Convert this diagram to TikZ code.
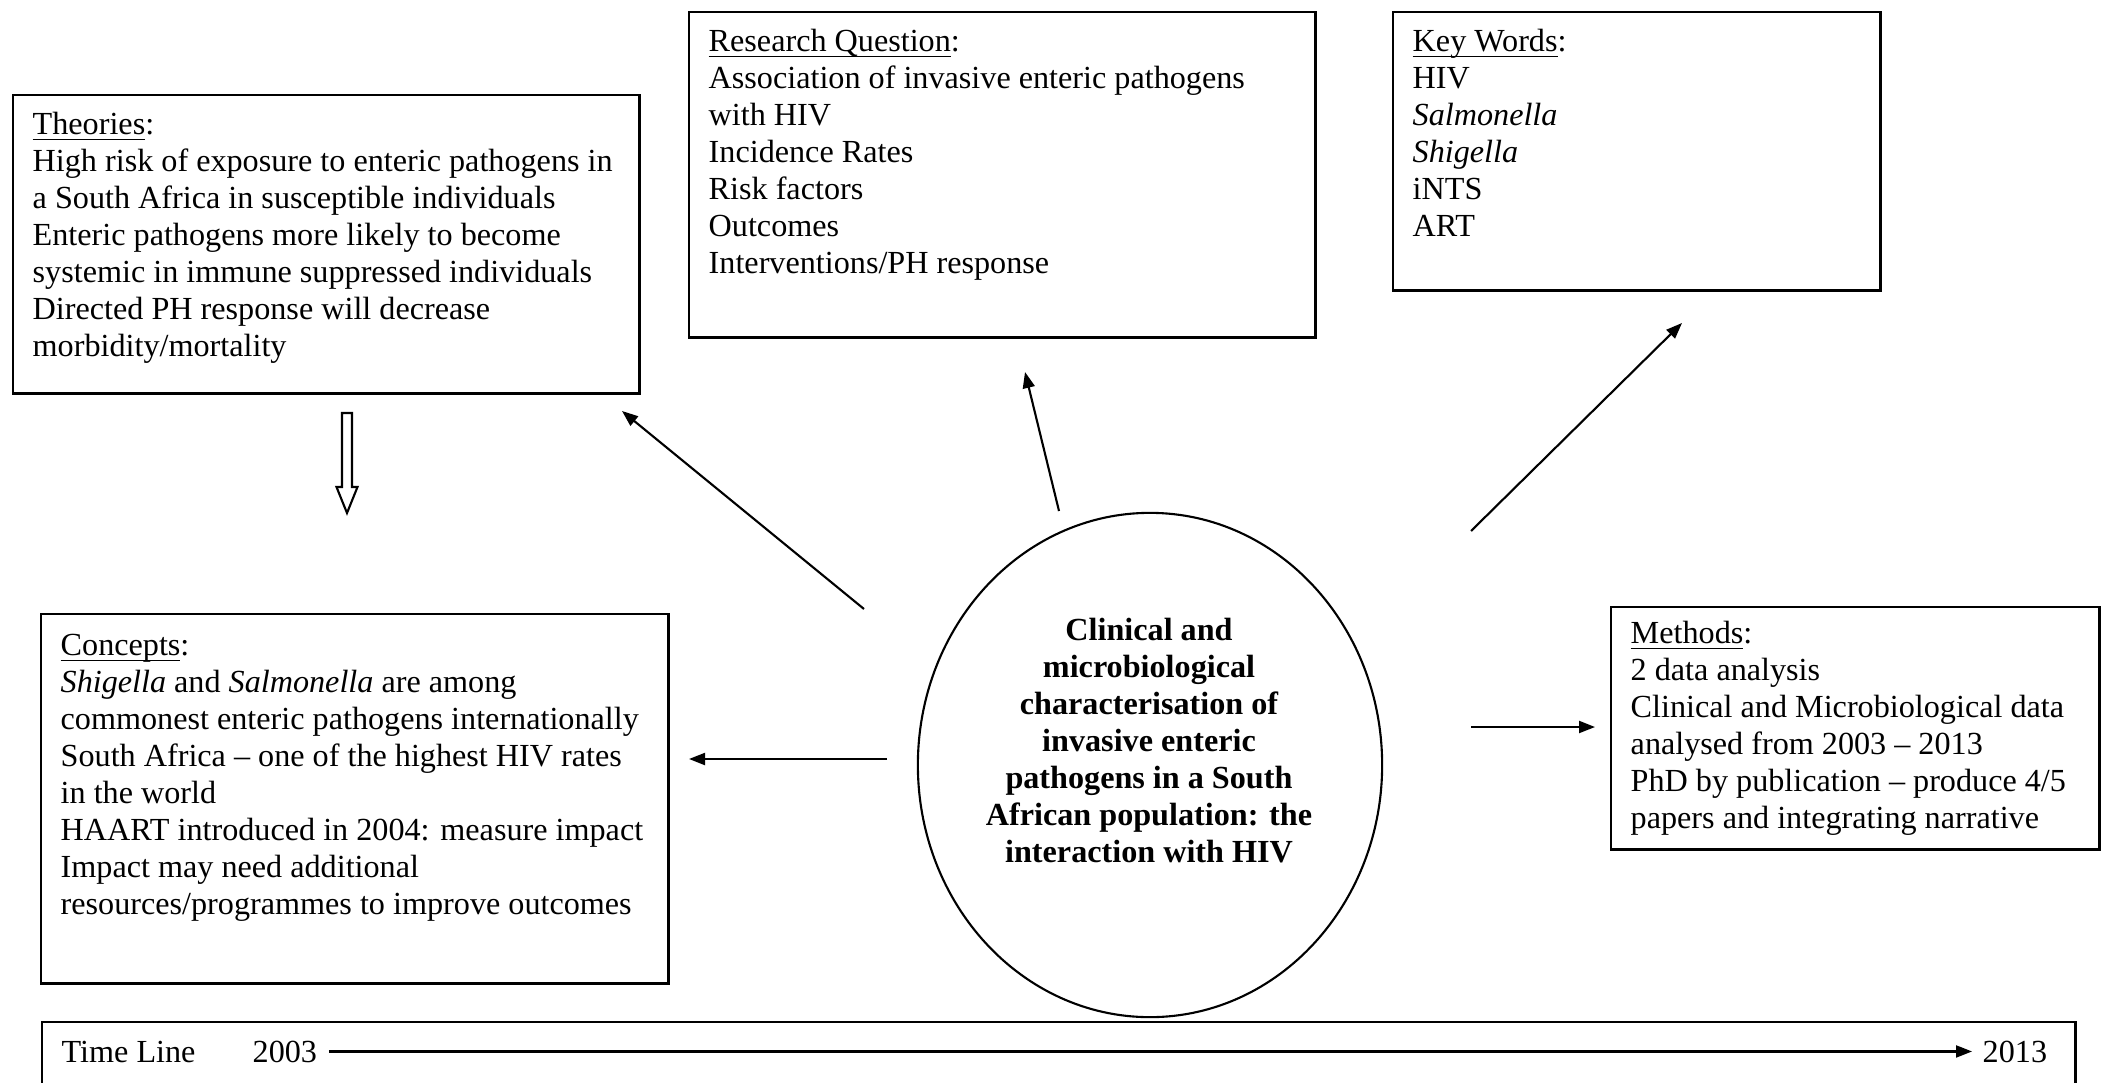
\documentclass[tikz,border=0pt]{standalone}
\usepackage{fontspec}
\setmainfont{Liberation Serif}
\usetikzlibrary{positioning,shapes,arrows.meta,calc}

\newcommand{\headword}[1]{\underline{\smash{#1}}}

\tikzset{
  box/.style={draw, line width=0.7pt, anchor=north west, inner sep=0pt},
  boxtext/.style={anchor=north west, align=left, inner sep=0pt,
    font=\fontsize{9.15}{10.5}\selectfont},
  link/.style={line width=0.6pt, -{Triangle[length=0.16cm, width=0.12cm]}},
}

\begin{document}
\begin{tikzpicture}[x=0.01cm, y=-0.01cm]
    \useasboundingbox (0,0) rectangle (2107,1082);
    % boxes
    \node[box, minimum width=6.26cm, minimum height=2.98cm] (theo) at (12,94) {};
    \node[box, minimum width=6.26cm, minimum height=3.25cm] (quest) at (688,11) {};
    \node[box, minimum width=4.87cm, minimum height=2.78cm] (keys) at (1392,11) {};
    \node[box, minimum width=6.27cm, minimum height=3.69cm] (conc) at (40,613) {};
    \node[box, minimum width=4.88cm, minimum height=2.42cm] (meth) at (1610,606) {};
    \node[box, minimum width=20.32cm, minimum height=1.2cm] (time) at (41,1021) {};
    \node[draw, ellipse, line width=0.6pt, minimum width=4.64cm, minimum height=5.04cm, inner sep=0pt] (hub) at (1150,765) {};

    % texts
    \node[boxtext] (theotxt) at ($(theo.north west)+(20,25)$) {\headword{Theories}:\\
        High risk of exposure to enteric pathogens in\\
        a South Africa in susceptible individuals\\
        Enteric pathogens more likely to become\\
        systemic in immune suppressed individuals\\
        Directed PH response will decrease\\
        morbidity/mortality};
    \node[boxtext] (questtxt) at ($(quest.north west)+(20,25)$) {\headword{Research Question}:\\
        Association of invasive enteric pathogens\\
        with HIV\\
        Incidence Rates\\
        Risk factors\\
        Outcomes\\
        Interventions/PH response};
    \node[boxtext] (keystxt) at ($(keys.north west)+(20,25)$) {\headword{Key Words}:\\
        HIV\\
        \textit{Salmonella}\\
        \textit{Shigella}\\
        iNTS\\
        ART};
    \node[boxtext] (conctxt) at ($(conc.north west)+(20,27)$) {\headword{Concepts}:\\
        \textit{Shigella} and \textit{Salmonella} are among\\
        commonest enteric pathogens internationally\\
        South Africa -- one of the highest HIV rates\\
        in the world\\
        HAART introduced in 2004: measure impact\\
        Impact may need additional\\
        resources/programmes to improve outcomes};
    \node[boxtext] (methtxt) at ($(meth.north west)+(20,22)$) {\headword{Methods}:\\
        2 data analysis\\
        Clinical and Microbiological data\\
        analysed from 2003 -- 2013\\
        PhD by publication -- produce 4/5\\
        papers and integrating narrative};
    \node[boxtext, align=center, anchor=base, font=\fontsize{9.15}{10.5}\selectfont\bfseries] (hubtxt) at (1149,862) {Clinical and\\
        microbiological\\
        characterisation of\\
        invasive enteric\\
        pathogens in a South\\
        African population: the\\
        interaction with HIV};

    % time line
    \node[boxtext, anchor=base west] (tl) at (61,1062) {Time Line};
    \node[boxtext, anchor=base west] (y03) at (252,1062) {2003};
    \node[boxtext, anchor=base west] (y13) at (1982,1062) {2013};
    \draw[link, shorten <=0.11cm, shorten >=0.1cm] (y03.east) -- (y13.west);

    % arrows out of the centre
    \coordinate (s1) at (864,609);  \coordinate (e1) at (622,411);
    \coordinate (s2) at (1059,511); \coordinate (e2) at (1025,372);
    \coordinate (s3) at (1471,531); \coordinate (e3) at (1682,323);
    \coordinate (s4) at (887,759);  \coordinate (e4) at (689,759);
    \coordinate (s5) at (1471,727); \coordinate (e5) at (1595,727);
    \foreach \i in {1,...,5}
        \draw[link] (s\i) -- (e\i);

    % hollow arrow theories -> concepts
    \draw[line width=0.6pt] (342,413) -- (352,413) -- (352,487) -- (357.5,487)
        -- (347,513) -- (336.5,487) -- (342,487) -- cycle;
\end{tikzpicture}
\end{document}
